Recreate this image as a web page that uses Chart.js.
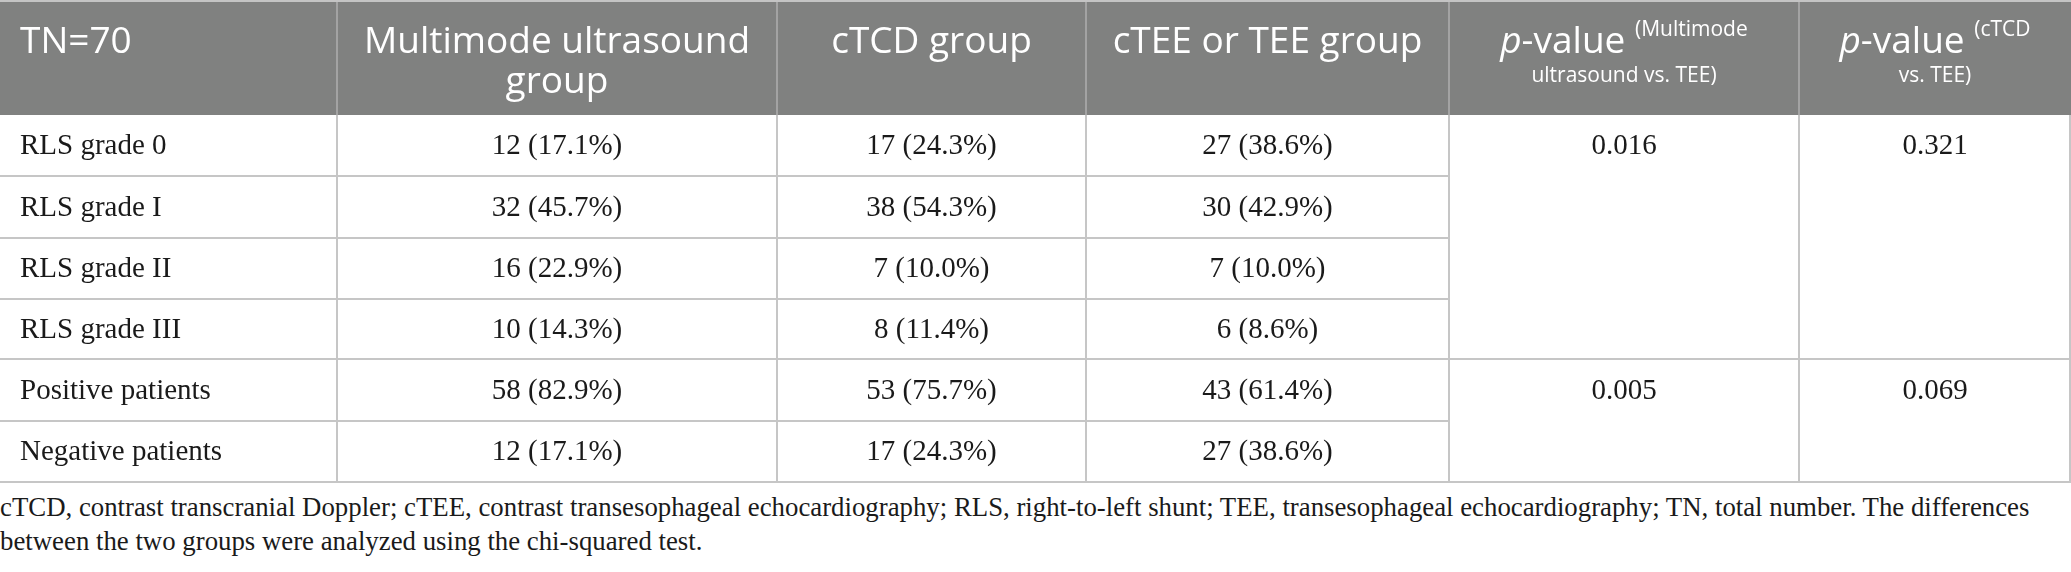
<!DOCTYPE html>
<html>
<head>
<meta charset="utf-8">
<script src="https://cdn.jsdelivr.net/npm/chart.js@4.4.1/dist/chart.umd.min.js"></script>
<style>
    body { margin: 0; background: #fff; }
    #wrap { position: relative; width: 2071px; height: 572px; overflow: hidden; }
    #note { position: absolute; left: 0; top: 490px; width: 2071px; white-space: nowrap;
            font: 26.8px "Liberation Serif", "Times New Roman", serif; line-height: 34px; color: #1a1a1a; }
</style>
</head>
<body>
<div id="wrap">
    <canvas id="myChart" width="2071" height="486"></canvas>
    <div id="note">cTCD, contrast transcranial Doppler; cTEE, contrast transesophageal echocardiography; RLS, right-to-left shunt; TEE, transesophageal echocardiography; TN, total number. The differences<br>between the two groups were analyzed using the chi-squared test.</div>
</div>
<script>
// table data
const cornerLabel = 'TN=70';
const groupHeaders = [['Multimode ultrasound', 'group'], ['cTCD group'], ['cTEE or TEE group']];
const pHeaders = [['(Multimode', 'ultrasound vs. TEE)'], ['(cTCD', 'vs. TEE)']];
const rowLabels = ['RLS grade 0', 'RLS grade I', 'RLS grade II', 'RLS grade III', 'Positive patients', 'Negative patients'];
const multimodeCounts = [12, 32, 16, 10, 58, 12];
const multimodePct = [17.1, 45.7, 22.9, 14.3, 82.9, 17.1];
const ctcdCounts = [17, 38, 7, 8, 53, 17];
const ctcdPct = [24.3, 54.3, 10.0, 11.4, 75.7, 24.3];
const teeCounts = [27, 30, 7, 6, 43, 27];
const teePct = [38.6, 42.9, 10.0, 8.6, 61.4, 38.6];
const pMultimodeVsTee = ['0.016', '0.005'];
const pCtcdVsTee = ['0.321', '0.069'];
const pGroupStart = [0, 4];   // first row of each merged p-value block

// layout (scale units)
const colEdges = [0, 337, 777, 1086, 1449, 1799, 2071];
const headerBottom = 115;
const rowEdges = [115, 176, 238, 299, 359, 421, 482];

const headFont = '"Open Sans", sans-serif';
const bodyFont = '"Liberation Serif", "Times New Roman", serif';
const headSize = 37, smallSize = 21, bodySize = 29;

function cellText(counts, pct, i) {
    return counts[i] + ' (' + pct[i].toFixed(1) + '%)';
}

const tablePlugin = {
    id: 'tablePlugin',
    afterDraw(chart) {
        const ctx = chart.ctx;
        const sx = chart.scales.x, sy = chart.scales.y;
        const X = v => sx.getPixelForValue(v);
        const Y = v => sy.getPixelForValue(v);
        ctx.save();

        // header band
        ctx.fillStyle = '#808180';
        ctx.fillRect(X(0), Y(0), X(2071) - X(0), Y(headerBottom) - Y(0));
        ctx.fillStyle = '#c4c4c4';
        ctx.fillRect(X(0), Y(0), X(2071) - X(0), 2);

        // header dividers
        ctx.strokeStyle = '#a3a3a3';
        ctx.lineWidth = 2;
        for (let c = 1; c < colEdges.length - 1; c++) {
            ctx.beginPath();
            ctx.moveTo(X(colEdges[c]), Y(2));
            ctx.lineTo(X(colEdges[c]), Y(headerBottom));
            ctx.stroke();
        }

        // body grid
        ctx.strokeStyle = '#c6c6c6';
        const last = rowEdges[rowEdges.length - 1];
        for (let c = 1; c < colEdges.length; c++) {
            const xx = c === colEdges.length - 1 ? X(colEdges[c]) - 1 : X(colEdges[c]);
            ctx.beginPath();
            ctx.moveTo(xx, Y(headerBottom));
            ctx.lineTo(xx, Y(last) + 1);
            ctx.stroke();
        }
        for (let r = 1; r < rowEdges.length; r++) {
            const full = r === 4 || r === rowEdges.length - 1;
            ctx.beginPath();
            ctx.moveTo(X(0), Y(rowEdges[r]));
            ctx.lineTo(X(full ? 2071 : colEdges[4]), Y(rowEdges[r]));
            ctx.stroke();
        }

        // header text
        ctx.fillStyle = '#ffffff';
        ctx.textBaseline = 'middle';
        ctx.font = headSize + 'px ' + headFont;
        ctx.textAlign = 'left';
        ctx.fillText(cornerLabel, X(20), Y(42));
        ctx.textAlign = 'center';
        groupHeaders.forEach((lines, i) => {
            const cx = X((colEdges[i + 1] + colEdges[i + 2]) / 2);
            lines.forEach((t, k) => ctx.fillText(t, cx, Y(42 + k * 40)));
        });
        pHeaders.forEach((lines, i) => {
            const cx = X((colEdges[i + 4] + colEdges[i + 5]) / 2);
            const big = headSize + 'px ' + headFont;
            const bigIt = 'italic ' + big;
            const small = smallSize + 'px ' + headFont;
            ctx.font = bigIt;
            const wp = ctx.measureText('p').width;
            ctx.font = big;
            const wv = ctx.measureText('-value ').width;
            ctx.font = small;
            const ws = ctx.measureText(lines[0]).width;
            const x0 = cx - (wp + wv + ws) / 2;
            ctx.textAlign = 'left';
            ctx.font = bigIt;
            ctx.fillText('p', x0, Y(42));
            ctx.font = big;
            ctx.fillText('-value ', x0 + wp, Y(42));
            ctx.font = small;
            ctx.fillText(lines[0], x0 + wp + wv, Y(30));
            ctx.textAlign = 'center';
            ctx.fillText(lines[1], cx, Y(76));
        });

        // body text
        ctx.fillStyle = '#1a1a1a';
        ctx.font = bodySize + 'px ' + bodyFont;
        const groups = [[multimodeCounts, multimodePct], [ctcdCounts, ctcdPct], [teeCounts, teePct]];
        rowLabels.forEach((label, r) => {
            const cy = Y((rowEdges[r] + rowEdges[r + 1]) / 2 + 1);
            ctx.textAlign = 'left';
            ctx.fillText(label, X(20), cy);
            ctx.textAlign = 'center';
            groups.forEach((g, i) => {
                ctx.fillText(cellText(g[0], g[1], r), X((colEdges[i + 1] + colEdges[i + 2]) / 2), cy);
            });
        });
        [pMultimodeVsTee, pCtcdVsTee].forEach((vals, i) => {
            const cx = X((colEdges[i + 4] + colEdges[i + 5]) / 2);
            vals.forEach((v, k) => {
                const r = pGroupStart[k];
                ctx.fillText(v, cx, Y((rowEdges[r] + rowEdges[r + 1]) / 2 + 1));
            });
        });
        ctx.restore();
    }
};

const config = {
    type: 'scatter',
    data: { datasets: [{ data: [] }] },
    options: {
        responsive: false,
        animation: false,
        devicePixelRatio: 1,
        layout: { padding: 0 },
        plugins: { legend: { display: false }, tooltip: { enabled: false } },
        scales: {
            x: { type: 'linear', display: false, min: 0, max: 2071 },
            y: { type: 'linear', display: false, min: 0, max: 486, reverse: true }
        }
    },
    plugins: [tablePlugin]
};

const myChart = new Chart(document.getElementById('myChart'), config);
</script>
</body>
</html>
